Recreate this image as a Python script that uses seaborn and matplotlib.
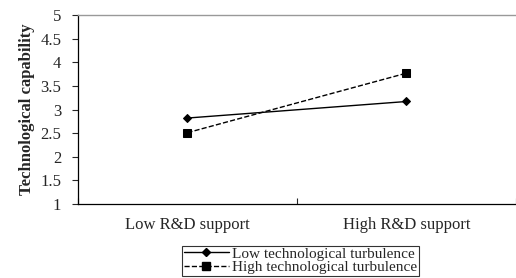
import numpy as np
import pandas as pd
import matplotlib
matplotlib.use("Agg")
import matplotlib.pyplot as plt
from matplotlib.lines import Line2D
import seaborn as sns

sns.set_style("ticks")
plt.rcParams["font.family"] = ["Liberation Serif", "DejaVu Serif"]

# data
support = ["Low R&D support", "High R&D support"]
low_turb = [2.82, 3.17]
high_turb = [2.51, 3.77]
series = ["Low technological turbulence", "High technological turbulence"]

df = pd.DataFrame({
    "support": support * 2,
    "capability": low_turb + high_turb,
    "group": [series[0]] * 2 + [series[1]] * 2,
})

fig = plt.figure(figsize=(5.16, 2.78), dpi=100)
ax = fig.add_axes([0.151, 0.266, 0.849, 0.68])

sns.pointplot(data=df, x="support", y="capability", hue="group",
              order=support, hue_order=series,
              palette=["black", "black"], markers=["D", "s"],
              linestyles=["-", "--"], errorbar=None, ax=ax,
              linewidth=1.0, markersize=5, legend=False)
for line, ms in zip(ax.lines, [4.5, 6]):
    line.set_markersize(ms)

ax.set_xlim(-0.5, 1.5)
ax.set_ylim(1, 5)
ax.set_yticks(np.arange(1, 5.01, 0.5))
ax.set_yticklabels(["1", "1.5", "2", "2.5", "3", "3.5", "4", "4.5", "5"])
ax.set_xticks([0, 1])
ax.set_xticklabels(support)
ax.set_xticks([-0.5, 0.5, 1.5], minor=True)
ax.tick_params(axis="x", which="major", length=0, pad=9, labelsize=12)
ax.tick_params(axis="x", which="minor", length=4, direction="in", width=0.8)
ax.tick_params(axis="y", length=4, direction="out", width=0.8, labelsize=12, pad=8)
ax.set_xlabel("")
ax.set_ylabel("Technological capability", fontsize=12, fontweight="bold", labelpad=4)

for side in ["left", "bottom"]:
    ax.spines[side].set_color("black")
    ax.spines[side].set_linewidth(0.9)
ax.spines["top"].set_visible(True)
ax.spines["top"].set_color("#999999")
ax.spines["top"].set_linewidth(1.0)
ax.spines["right"].set_visible(False)

handles = [
    Line2D([], [], color="black", lw=1, ls="-", marker="D", markersize=4),
    Line2D([], [], color="black", lw=1, ls="--", marker="s", markersize=5.5),
]
leg = fig.legend(handles, series, loc="lower left",
                 bbox_to_anchor=(182 / 516, 2 / 278), frameon=True,
                 fancybox=False, edgecolor="black", fontsize=11,
                 handlelength=3, handletextpad=0.2, borderpad=0.1,
                 labelspacing=0.0, borderaxespad=0)
leg.get_frame().set_linewidth(0.8)

fig.savefig("out.png", dpi=100)
